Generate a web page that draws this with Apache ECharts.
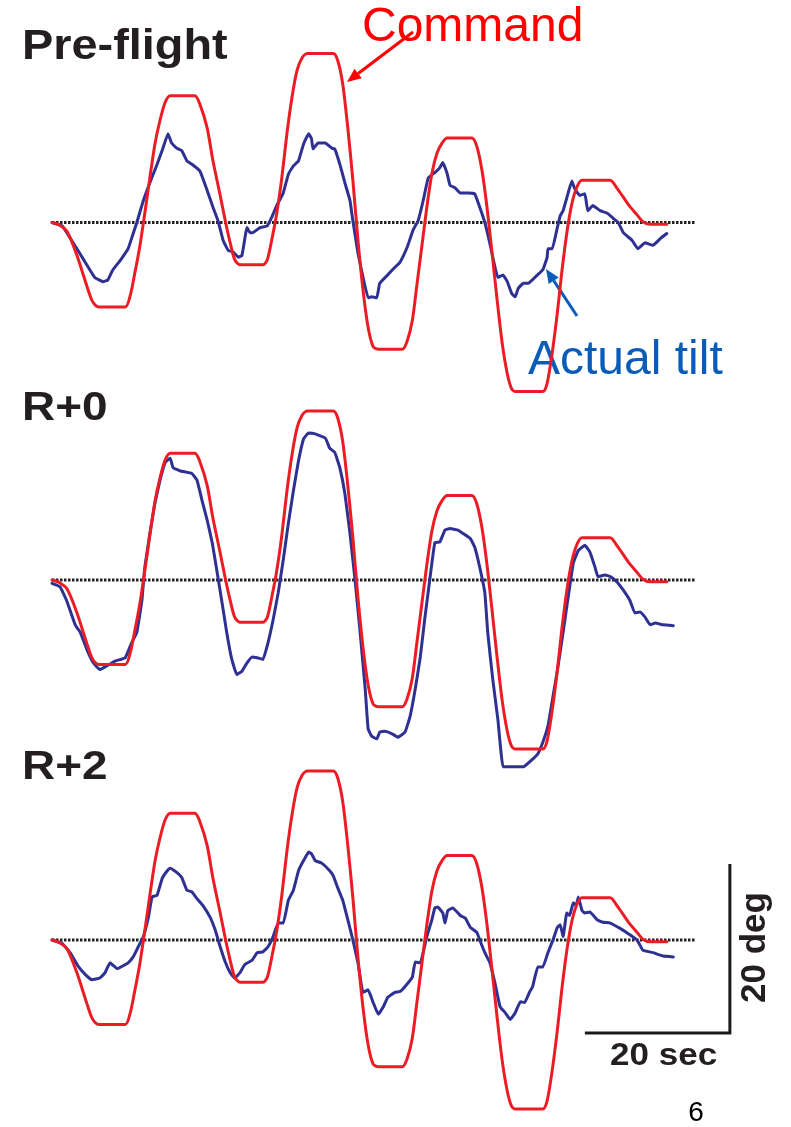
<!DOCTYPE html>
<html>
<head>
<meta charset="utf-8">
<script src="https://cdn.jsdelivr.net/npm/echarts@6/dist/echarts.min.js"></script>
<style>
  html, body { margin: 0; padding: 0; background: #fff; }
  #main { width: 791px; height: 1127px; }
</style>
</head>
<body>
<div id="main"></div>
<script>
// panel names
var panels = ['Pre-flight', 'R+0', 'R+2'];

// command tilt profile, [sec, deg] (same in every panel)
var command = [
  [0, 0], [1.0, -0.3], [2.1, -1.1], [3.4, -3.8], [4.8, -7.5], [5.5, -9.2], [6.0, -9.8], [6.5, -10],
  [10.1, -10], [10.8, -8.6], [11.4, -6.1], [12.1, -2.9], [12.8, 1.1], [13.5, 5.3], [14.2, 9.3], [14.9, 12.1], [15.6, 14.2], [16.3, 15],
  [19.7, 15], [20.4, 14.0], [21.4, 11.2], [22.2, 7.3], [23.2, 3.2], [23.9, 0.2], [24.6, -2.5], [25.2, -4.4], [25.9, -5],
  [29.1, -5], [29.7, -4.4], [30.3, -2.1], [31.0, 1.1], [31.7, 5.3], [32.4, 10.5], [33.1, 14.8], [33.8, 18.0], [34.5, 19.5], [35.2, 20],
  [38.8, 20], [39.4, 19.2], [40.1, 16.4], [40.8, 11.2], [41.5, 5.0], [42.2, -2.1], [42.9, -8.0], [43.6, -12.4], [44.3, -14.7], [45.0, -15],
  [48.3, -15], [49.0, -14.0], [49.7, -11.6], [50.3, -7.6], [51.0, -2.9], [51.7, 1.8], [52.4, 5.8], [53.1, 8.2], [53.8, 9.4], [54.5, 10],
  [57.9, 10], [58.6, 9.0], [59.3, 6.2], [60.0, 1.8], [60.7, -3.6], [61.4, -9.2], [62.1, -14.3], [62.8, -17.9], [63.4, -19.7], [63.9, -20],
  [67.7, -20], [68.3, -19.0], [69.0, -15.4], [69.7, -10.7], [70.3, -6.0], [71.0, -1.3], [71.7, 2.2], [72.4, 4.2], [73.1, 5],
  [77.0, 5], [77.9, 4.1], [78.8, 3.0], [79.7, 1.9], [80.7, 0.9], [81.5, 0.1], [82.5, -0.2], [84.8, -0.2]
];

// measured tilt, [sec, deg]
var tiltPre = [
  [0, 0], [1.4, -0.4], [2.7, -2.1], [4.3, -4.3], [5.9, -6.5], [7.1, -7.0], [7.7, -6.8], [8.4, -5.6], [9.4, -4.5], [10.5, -3.1],
  [11.2, -1.3], [11.7, 0], [12.6, 2.6], [13.5, 4.7], [14.5, 6.9], [15.3, 8.8], [16.0, 10.5], [16.5, 9.4], [17.2, 8.8], [17.9, 8.5],
  [18.6, 7.3], [19.3, 6.9], [20.4, 6.1], [21.4, 3.8], [22.2, 1.8], [22.9, 0.2], [23.6, -2.1], [24.3, -3.3], [25.0, -3.5], [25.7, -4.1],
  [26.2, -3.9], [26.9, -0.6], [27.3, -1.2], [27.7, -1.2], [28.7, -0.6], [29.7, -0.4], [30.3, 0.6], [31.0, 2.0], [31.9, 3.5], [32.6, 5.7],
  [33.3, 6.7], [34.0, 7.3], [34.7, 9.3], [35.4, 10.5], [35.8, 9.9], [36.0, 8.7], [36.7, 9.4], [37.7, 9.4], [38.6, 8.8], [39.0, 8.7],
  [39.7, 6.9], [40.4, 4.7], [41.1, 2.6], [41.5, 0.2], [42.2, -3.6], [42.9, -6.5], [43.6, -8.9], [44.1, -8.8], [44.8, -8.9], [45.2, -7.2],
  [46.3, -6.2], [47.3, -5.3], [48.0, -4.7], [49.0, -2.9], [49.8, -0.9], [50.5, 0.2], [51.2, 2.6], [51.9, 5.3], [52.8, 5.9], [53.5, 6.5],
  [53.9, 7.1], [54.5, 5.8], [54.9, 4.4], [55.6, 4.1], [56.3, 3.5], [57.4, 3.5], [58.3, 3.4], [59.0, 1.8], [59.7, 0], [60.4, -2.5],
  [61.1, -5.3], [61.5, -6.5], [62.2, -6.2], [62.8, -7.0], [63.4, -8.4], [63.9, -8.8], [64.3, -7.8], [65.0, -7.2], [65.7, -7.2], [66.6, -6.5],
  [67.7, -5.6], [68.3, -4.1], [68.4, -3.1], [69.0, -3.1], [69.7, -0.6], [70.1, 0.8], [70.5, 1.4], [71.0, 2.9], [71.7, 4.9], [72.1, 4.0],
  [72.8, 3.2], [73.5, 3.4], [73.9, 1.4], [74.6, 2.0], [75.6, 1.4], [76.6, 1.1], [77.4, 0.5], [78.1, 0], [78.8, -1.2], [80.0, -2.1],
  [80.8, -3.1], [81.8, -2.4], [82.9, -2.7], [83.9, -1.9], [84.8, -1.3]
];

var tiltR0 = [
  [0, -0.4], [1.1, -0.8], [2.0, -2.4], [3.2, -5.3], [3.9, -6.2], [4.8, -8.2], [5.7, -9.8], [6.6, -10.6], [7.5, -10.2], [8.7, -9.6],
  [10.1, -9.2], [11.0, -7.4], [11.7, -6.2], [12.4, -2.4], [12.8, 1.5], [13.5, 5.5], [14.2, 9.1], [14.9, 11.8], [15.6, 13.9], [16.3, 14.4],
  [16.7, 13.3], [17.7, 12.9], [19.3, 12.6], [20.0, 11.8], [20.7, 9.4], [21.4, 7.1], [22.1, 4.4], [22.8, 0.8], [23.4, -2.4], [24.1, -6.2],
  [24.8, -9.4], [25.5, -11.2], [26.2, -10.8], [26.9, -9.8], [27.6, -9.1], [28.3, -9.2], [29.1, -9.4], [29.8, -7.4], [30.5, -4.7], [31.2, -1.5],
  [31.9, 2.4], [32.6, 6.7], [33.3, 10.6], [34.0, 14.1], [34.7, 16.7], [35.4, 17.4], [36.3, 17.3], [37.7, 16.8], [38.3, 15.6], [39.0, 15.1],
  [39.7, 13.3], [40.4, 10.2], [41.1, 5.5], [41.8, 0], [42.5, -6.2], [43.2, -12.9], [43.6, -17.6], [44.1, -18.5], [44.8, -18.8], [45.2, -18.0],
  [45.9, -17.9], [46.9, -18.2], [47.7, -18.6], [48.7, -18.0], [49.4, -16.1], [50.1, -12.9], [50.8, -9.1], [51.4, -4.7], [52.1, 0], [52.8, 4.4],
  [53.5, 4.5], [54.2, 5.9], [54.9, 6.1], [56.0, 5.9], [56.7, 5.5], [57.7, 4.9], [58.3, 3.9], [59.0, 1.5], [59.7, -1.5], [60.1, -6.2],
  [60.8, -11.8], [61.5, -16.5], [62.2, -22.1], [62.9, -22.1], [65.0, -22.1], [65.5, -21.8], [66.3, -21.2], [67.0, -20.6], [67.7, -19.2], [68.4, -17.3],
  [69.1, -13.8], [69.8, -10.2], [70.5, -6.2], [71.2, -2.0], [71.9, 2.0], [72.6, 3.5], [73.5, 4.1], [74.2, 3.3], [74.9, 1.5], [75.3, 0.4],
  [76.3, 0.6], [77.0, 0.4], [77.9, -0.2], [78.8, -1.2], [79.7, -2.4], [80.4, -3.9], [81.1, -3.8], [81.8, -4.4], [82.5, -5.3], [83.2, -5.1],
  [84.3, -5.3], [85.7, -5.4]
];

var tiltR2 = [
  [0, 0], [1.4, -0.4], [2.5, -1.5], [3.6, -3.1], [4.6, -4.1], [5.5, -4.7], [6.6, -4.5], [7.3, -3.9], [8.0, -2.7], [9.0, -3.4],
  [9.7, -3.1], [10.5, -2.7], [11.2, -2.0], [11.9, -0.8], [12.6, 0.4], [13.3, 2.7], [13.8, 5.1], [14.5, 5.3], [15.2, 7.3], [15.9, 8.2],
  [16.3, 8.5], [17.2, 8.0], [17.9, 7.4], [18.6, 5.9], [19.3, 5.7], [20.0, 4.9], [20.8, 4.1], [21.8, 2.7], [22.5, 1.2], [23.2, -0.8],
  [23.9, -2.6], [24.6, -3.9], [25.2, -4.5], [25.9, -3.9], [26.6, -2.9], [27.6, -2.4], [28.3, -1.5], [29.1, -1.4], [29.8, -0.8], [30.5, 0.4],
  [31.2, 2.0], [31.9, 2.0], [32.6, 4.7], [33.3, 5.9], [34.0, 8.2], [34.7, 9.4], [35.4, 10.4], [35.8, 10.2], [36.3, 9.4], [37.2, 9.1],
  [38.3, 8.2], [38.8, 7.6], [39.4, 6.2], [40.1, 4.7], [40.8, 2.4], [41.5, 0], [42.2, -2.7], [42.9, -6.2], [43.6, -5.9], [44.3, -7.4],
  [45.0, -8.8], [45.7, -7.9], [46.3, -6.8], [47.3, -6.2], [48.0, -6.1], [48.7, -5.5], [49.7, -4.4], [50.1, -2.6], [50.8, -2.7], [51.7, 0.4],
  [52.4, 2.4], [52.8, 3.8], [53.2, 3.9], [53.9, 3.2], [54.2, 2.0], [54.6, 3.5], [55.3, 3.8], [56.3, 2.9], [57.0, 2.6], [57.7, 1.5],
  [58.6, 0.9], [59.0, 0], [59.7, -1.5], [60.4, -2.7], [61.1, -5.1], [61.8, -7.9], [62.5, -8.6], [63.2, -9.4], [63.9, -8.6], [64.6, -7.3],
  [65.2, -7.4], [65.9, -6.1], [66.3, -5.5], [67.0, -3.2], [67.7, -3.2], [68.4, -1.5], [69.1, 0], [69.7, 1.5], [70.1, 1.8], [70.5, 0.4],
  [71.0, 3.2], [71.4, 2.9], [71.9, 4.4], [72.3, 4.1], [72.6, 5.1], [73.1, 3.5], [73.5, 3.2], [74.2, 3.3], [75.2, 2.4], [76.0, 2.1],
  [77.0, 2.0], [78.3, 1.4], [79.4, 0.8], [80.7, 0], [81.5, -1.2], [82.9, -1.5], [84.3, -1.9], [85.7, -2.0]
];

var tilts = [tiltPre, tiltR0, tiltR2];

// dotted zero reference and 20 s / 20 deg scale bar
var zeroLine = [[0, 0], [88.7, 0]];
var scaleBar = [[73.5, -11], [93.5, -11], [93.5, 9]];

var RED = '#ec1c24';
var BLUE = '#2e3192';
var FONT = '"Liberation Sans", Arial, Helvetica, sans-serif';

var myChart = echarts.init(document.getElementById('main'), null, {renderer: 'canvas'});

var pxPerDeg = 8.45;
var zeroY = [222.5, 580, 940];
// y extent of each panel (kept inside the canvas)
var yMin = [-24, -24, -21.5];
var yMax = [24, 24, 24];

var grids = [], xAxes = [], yAxes = [], series = [];
for (var i = 0; i < 3; i++) {
    grids.push({
        left: 52, width: 725,
        top: zeroY[i] - yMax[i] * pxPerDeg,
        height: (yMax[i] - yMin[i]) * pxPerDeg,
        containLabel: false
    });
    xAxes.push({gridIndex: i, type: 'value', min: 0, max: 100, show: false});
    yAxes.push({gridIndex: i, type: 'value', min: yMin[i], max: yMax[i], show: false});
    series.push({
        name: panels[i] + ' zero', type: 'line', xAxisIndex: i, yAxisIndex: i,
        data: zeroLine, showSymbol: false, silent: true, z: 1,
        lineStyle: {color: '#222', width: 3, type: [2.5, 1.5]}
    });
    series.push({
        name: panels[i] + ' actual', type: 'line', xAxisIndex: i, yAxisIndex: i,
        data: tilts[i], showSymbol: false, clip: false, smooth: 0.1, z: 2,
        lineStyle: {color: BLUE, width: 3, cap: 'round', join: 'round'}
    });
    series.push({
        name: panels[i] + ' command', type: 'line', xAxisIndex: i, yAxisIndex: i,
        data: command, showSymbol: false, clip: false, smooth: 0.25, z: 3,
        lineStyle: {color: RED, width: 3, cap: 'round', join: 'round'}
    });
}
series.push({
    name: 'scale', type: 'line', xAxisIndex: 2, yAxisIndex: 2,
    data: scaleBar, showSymbol: false, clip: false, z: 4,
    lineStyle: {color: '#1a1a1a', width: 3, join: 'miter'}
});

function arrow(x1, y1, x2, y2, color) {
    var ang = Math.atan2(y2 - y1, x2 - x1);
    var len = 14, half = 6;
    var bx = x2 - len * Math.cos(ang), by = y2 - len * Math.sin(ang);
    var px = -Math.sin(ang) * half, py = Math.cos(ang) * half;
    return [
        {type: 'line', shape: {x1: x1, y1: y1, x2: bx, y2: by}, style: {stroke: color, lineWidth: 3}},
        {type: 'polygon', shape: {points: [[x2, y2], [bx + px, by + py], [bx - px, by - py]]}, style: {fill: color}}
    ];
}

function label(text, x, y, size, weight, color, sx) {
    return {
        type: 'text', x: x, y: y, scaleX: sx || 1,
        style: {text: text, fontSize: size, fontWeight: weight, fontFamily: FONT, fill: color, align: 'left', verticalAlign: 'middle'}
    };
}

var graphics = [
    label('Pre-flight', 22, 47.5, 43, 'bold', '#231f20', 1.09),
    label('R+0', 22, 409, 41, 'bold', '#231f20', 1.12),
    label('R+2', 22, 768, 41, 'bold', '#231f20', 1.12),
    label('Command', 362, 27.5, 48, 'normal', '#ff0000'),
    label('Actual tilt', 528, 360.5, 48, 'normal', '#0b5cb8'),
    label('20 sec', 610, 1056, 31, 'bold', '#231f20', 1.13),
    {
        type: 'text', x: 755, y: 947.5, rotation: Math.PI / 2,
        style: {text: '20 deg', fontSize: 35, fontWeight: 'bold', fontFamily: FONT, fill: '#231f20', align: 'center', verticalAlign: 'middle'}
    },
    {
        type: 'text', x: 696, y: 1113,
        style: {text: '6', fontSize: 28, fontFamily: FONT, fill: '#000', align: 'center', verticalAlign: 'middle'}
    }
].concat(arrow(413, 32, 347, 82, '#ff0000'), arrow(577, 316, 546, 269, '#0b5cb8'));

myChart.setOption({
    backgroundColor: '#fff',
    animation: false,
    grid: grids,
    xAxis: xAxes,
    yAxis: yAxes,
    series: series,
    graphic: graphics
});
</script>
</body>
</html>
